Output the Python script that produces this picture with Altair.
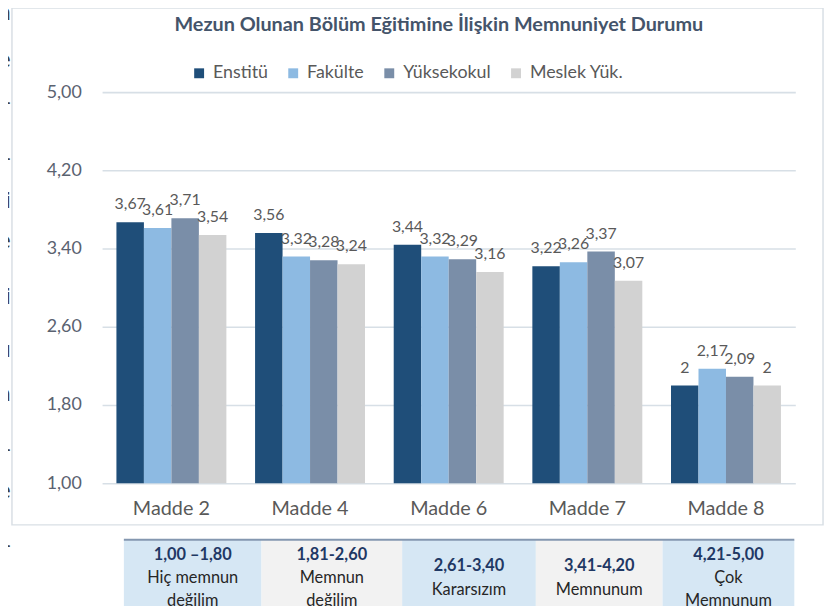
import altair as alt
import pandas as pd

# ---------------- data ----------------
categories = ["Madde 2", "Madde 4", "Madde 6", "Madde 7", "Madde 8"]
series = ["Enstitü", "Fakülte", "Yüksekokul", "Meslek Yük."]
enstitu = [3.67, 3.56, 3.44, 3.22, 2.00]
fakulte = [3.61, 3.32, 3.32, 3.26, 2.17]
yuksekokul = [3.71, 3.28, 3.29, 3.37, 2.09]
meslek = [3.54, 3.24, 3.16, 3.07, 2.00]
y_ticks = [1.0, 1.8, 2.6, 3.4, 4.2, 5.0]

title_text = "Mezun Olunan Bölüm Eğitimine İlişkin Memnuniyet Durumu"

table_ranges = ["1,00 –1,80", "1,81-2,60", "2,61-3,40", "3,41-4,20", "4,21-5,00"]
table_labels = [["Hiç memnun", "değilim"], ["Memnun", "değilim"], ["Kararsızım"],
                ["Memnunum"], ["Çok", "Memnunum"]]

side_text = ["n", "e", "-", "-", "ni", "e", "ni", "ı", "a", "-", "e", "-"]

# ---------------- layout / style ----------------
FONT = "Lato"
colors = ["#1f4e79", "#8dbae2", "#7a8ea8", "#d2d2d2"]
table_fills = ["#d6e7f4", "#f2f2f2", "#d6e7f4", "#f2f2f2", "#d6e7f4"]
cell_edges = [22, 161, 303, 438, 566, 699]          # px, relative to plot origin
side_y = [-80, -32, 10, 67, 110, 150, 207, 260, 305, 360, 403, 457]

rows = []
for s, vals in zip(series, [enstitu, fakulte, yuksekokul, meslek]):
    for c, v in zip(categories, vals):
        rows.append({"Madde": c, "Grup": s, "Deger": v,
                     "Etiket": f"{v:g}".replace(".", ",")})
df = pd.DataFrame(rows)

base = alt.Chart(df).encode(
    x=alt.X("Madde:N", sort=categories,
            scale=alt.Scale(paddingInner=0.207, paddingOuter=0.1035),
            axis=alt.Axis(title=None, labelAngle=0, labelFontSize=20, labelFont=FONT,
                          labelColor="#595959", labelPadding=16, ticks=False,
                          domain=False, grid=False)),
    xOffset=alt.XOffset("Grup:N", sort=series,
                        scale=alt.Scale(paddingInner=0, paddingOuter=0)),
    y=alt.Y("Deger:Q", scale=alt.Scale(domain=[1, 5], nice=False, zero=False),
            axis=alt.Axis(title=None, values=y_ticks,
                          labelExpr="replace(format(datum.value, '.2f'), '.', ',')",
                          ticks=False, domain=False, gridColor="#d7dfe6",
                          gridWidth=1.6, labelFontSize=18, labelFont=FONT,
                          labelColor="#5a6270", labelPadding=21)),
)

bars = base.mark_bar().encode(
    y2=alt.datum(1),
    color=alt.Color("Grup:N", sort=series,
                    scale=alt.Scale(domain=series, range=colors),
                    legend=alt.Legend(title=None, orient="none", legendX=89, legendY=-28,
                                      direction="horizontal", symbolType="square",
                                      symbolSize=100, symbolStrokeWidth=0,
                                      labelFontSize=18, labelFont=FONT,
                                      labelColor="#595959", columnPadding=16,
                                      labelOffset=5)),
)

bar_labels = base.mark_text(dy=-10, baseline="bottom", fontSize=16, font=FONT,
                            color="#595959").encode(text="Etiket:N")

one = pd.DataFrame({"a": [0]})

frame = alt.Chart(one).mark_rect(fillOpacity=0, stroke="#d9dfe5", strokeWidth=1.5).encode(
    x=alt.value(-91), x2=alt.value(728), y=alt.value(-85), y2=alt.value(437))

title = alt.Chart(pd.DataFrame({"t": [title_text]})).mark_text(
    fontSize=20, font=FONT, fontWeight="bold", color="#44546a", baseline="middle"
).encode(text="t:N", x=alt.value(340), y=alt.value(-68))

# table
cells = pd.DataFrame({
    "x0": cell_edges[:-1], "x1": cell_edges[1:], "fill": table_fills,
})
table_cells = alt.Chart(cells).mark_rect().encode(
    x=alt.X("x0:Q", scale=None), x2="x1:Q",
    y=alt.value(452), y2=alt.value(530),
    color=alt.Color("fill:N", scale=None),
)
table_line = alt.Chart(one).mark_rule(color="#8497b0", strokeWidth=2).encode(
    x=alt.value(cell_edges[0]), x2=alt.value(cell_edges[-1]), y=alt.value(452))

trows = []
for i, (r, labs) in enumerate(zip(table_ranges, table_labels)):
    lines = [r] + labs
    xc = (cell_edges[i] + cell_edges[i + 1]) / 2
    y0 = 467 if len(lines) == 3 else 479
    for j, ln in enumerate(lines):
        trows.append({"xc": xc, "yc": y0 + 23.5 * j, "txt": ln, "bold": j == 0})
tdf = pd.DataFrame(trows)
table_head = alt.Chart(tdf).transform_filter("datum.bold").mark_text(
    fontSize=16.5, font=FONT, fontWeight="bold", color="#1f3864", baseline="middle"
).encode(x=alt.X("xc:Q", scale=None), y=alt.Y("yc:Q", scale=None), text="txt:N")
table_body = alt.Chart(tdf).transform_filter("!datum.bold").mark_text(
    fontSize=16.5, font=FONT, color="#262626", baseline="middle"
).encode(x=alt.X("xc:Q", scale=None), y=alt.Y("yc:Q", scale=None), text="txt:N")

side = alt.Chart(pd.DataFrame({"t": side_text, "y": side_y})).mark_text(
    fontSize=22, font="DejaVu Sans", color="#404040", align="right", baseline="middle"
).encode(x=alt.value(-92), y=alt.Y("y:Q", scale=None), text="t:N")

chart = alt.layer(
    frame, side, title, table_cells, table_line, table_head, table_body, bars, bar_labels
).properties(
    width=700, height=395,
    autosize=alt.AutoSizeParams(type="none"),
    padding={"left": 95, "top": 82, "right": 31, "bottom": 121},
    background="white",
).configure_view(stroke=None)

chart.save("out.html", embed_options={"renderer": "svg", "actions": False})
